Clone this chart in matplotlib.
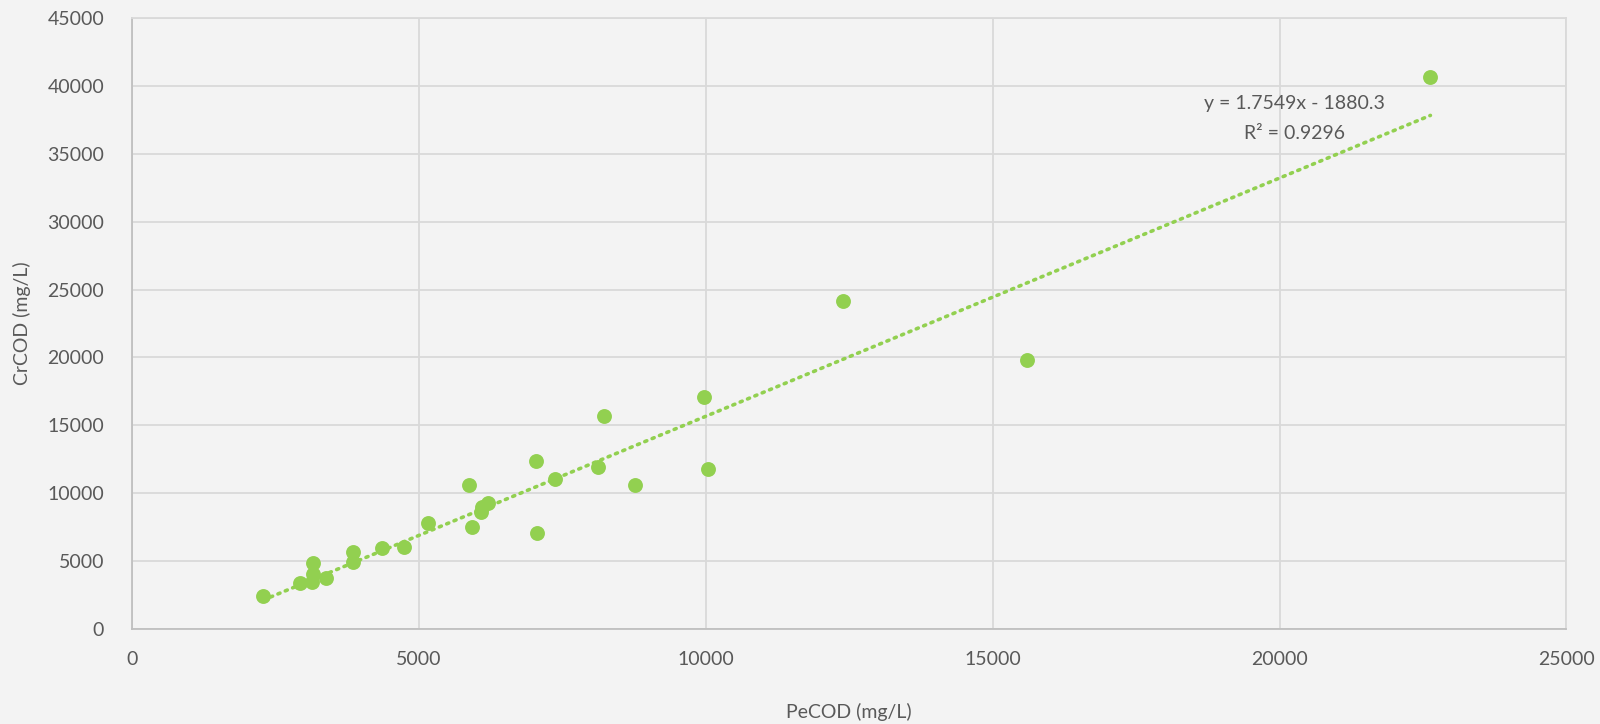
import matplotlib.pyplot as plt
import numpy as np

# PeCOD vs CrCOD (mg/L)
pecod = [2288, 2927, 3148, 3148, 3136, 3374, 3850, 3850, 4350, 4733,
         5151, 5876, 5923, 6074, 6092, 6197, 7042, 7061, 7372, 8126,
         8225, 8773, 9969, 10037, 12385, 15592, 22630]
crcod = [2452, 3365, 4882, 4050, 3483, 3755, 5670, 4911, 5942, 6061,
         7828, 10626, 7533, 8638, 8962, 9256, 12380, 7091, 11080, 11900,
         15690, 10630, 17069, 11773, 24138, 19803, 40690]

slope = 1.7549
intercept = -1880.3
r2 = 0.9296

x_ticks = [0, 5000, 10000, 15000, 20000, 25000]
y_ticks = [0, 5000, 10000, 15000, 20000, 25000, 30000, 35000, 40000, 45000]

GREEN = "#92D050"
TEXT = "#595959"
GRID = "#d9d9d9"
BG = "#f3f3f3"

plt.rcParams['font.family'] = ['Lato', 'DejaVu Sans']

fig = plt.figure(figsize=(16, 7.24), dpi=100, facecolor=BG)
ax = fig.add_axes([0.0825, 0.1312, 0.8965, 0.8438], facecolor=BG)

ax.set_xlim(0, 25000)
ax.set_ylim(0, 45000)
ax.set_xticks(x_ticks)
ax.set_yticks(y_ticks)
ax.grid(True, color=GRID, linewidth=1.3)
ax.set_axisbelow(True)
for side in ax.spines.values():
    side.set_color(GRID)
    side.set_linewidth(1.3)
ax.spines['left'].set_color("#bfbfbf")
ax.spines['bottom'].set_color("#bfbfbf")
ax.tick_params(length=0, labelsize=14, labelcolor=TEXT, pad=20)
ax.tick_params(axis='x', pad=16)

ax.scatter(pecod, crcod, s=115, color=GREEN, zorder=3, linewidths=0)

# linear trendline over data range
xs = np.array([min(pecod), max(pecod)])
ax.plot(xs, slope * xs + intercept, color=GREEN, linewidth=2.6,
        linestyle=(0, (0.6, 1.6)), dash_capstyle='round', zorder=2)

ax.text(20260, 38700, f"y = {slope}x - {abs(intercept)}", ha='center', va='center',
        fontsize=14, color=TEXT)
ax.text(20260, 36500, f"R² = {r2}", ha='center', va='center',
        fontsize=14, color=TEXT)

ax.set_xlabel("PeCOD (mg/L)", fontsize=14, color=TEXT, labelpad=25)
ax.set_ylabel("CrCOD (mg/L)", fontsize=14, color=TEXT, labelpad=12)

fig.savefig("out.png", dpi=100, facecolor=BG)
